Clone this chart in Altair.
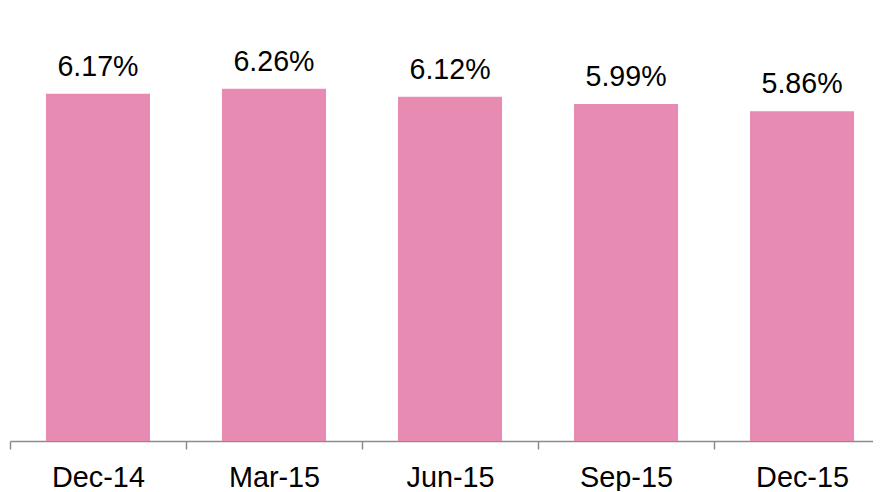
import altair as alt
import pandas as pd

periods = ["Dec-14", "Mar-15", "Jun-15", "Sep-15", "Dec-15"]
values = [6.17, 6.26, 6.12, 5.99, 5.86]
labels = ["6.17%", "6.26%", "6.12%", "5.99%", "5.86%"]

df = pd.DataFrame({"period": periods, "value": values, "label": labels})

FONT = "Liberation Sans"

x = alt.X(
    "period:N",
    sort=periods,
    title=None,
    scale=alt.Scale(paddingInner=0.409, paddingOuter=0.156, align=0.655),
    axis=alt.Axis(
        labelAngle=0,
        labelFontSize=28.8,
        labelFont=FONT,
        labelColor="#000000",
        labelPadding=14,
        tickSize=8,
        tickColor="#8c8c8c",
        domainColor="#8c8c8c",
        tickBand="center",
        tickOffset=-88,
        labelOffset=88,
        domainWidth=1.5,
        tickWidth=1.5,
        grid=False,
    ),
)
y = alt.Y("value:Q", scale=alt.Scale(domain=[0, 7.5], nice=False), axis=None)

bars = alt.Chart(df).mark_bar(color="#E88BB3").encode(x=x, y=y)
text = alt.Chart(df).mark_text(
    baseline="bottom", dy=-12, fontSize=28.6, font=FONT, color="#000000"
).encode(x=x, y=y, text="label:N")

chart = (
    alt.layer(bars, text)
    .properties(
        width=863,
        height=422,
        autosize=alt.AutoSizeParams(type="none"),
        padding={"left": 2, "top": 11, "right": 0, "bottom": 50},
        view=alt.ViewBackground(stroke="transparent", strokeWidth=0),
    )
    .configure_view(strokeWidth=0, stroke="transparent")
    .configure(background="#ffffff")
)

chart.save("out.html", embed_options={"renderer": "svg", "actions": False})
